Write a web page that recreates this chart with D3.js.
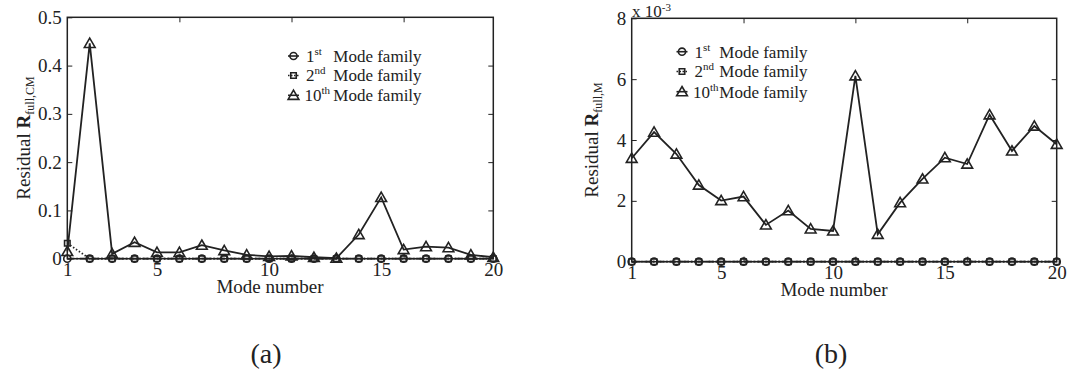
<!DOCTYPE html>
<html>
<head>
<meta charset="utf-8">
<script src="https://cdn.jsdelivr.net/npm/d3@7"></script>
<style>
  body { margin: 0; background: #fff; }
  svg text { font-family: "Liberation Serif", "Times New Roman", serif; fill: #222; }
</style>
</head>
<body>
<svg id="fig" width="1069" height="374"></svg>
<script>
// mode numbers on the x axis
const modes = d3.range(1, 21);
const xTickLabels = [1, 5, 10, 15, 20];
const xTickMarks = [6, 11, 16];

// panel (a): residual R_full,CM
const firstA  = [0, 0, 0, 0, 0, 0, 0, 0, 0, 0, 0, 0, 0, 0, 0, 0, 0, 0, 0, 0];
const secondA = [0.032, 0, 0, 0, 0, 0, 0, 0, 0, 0, 0, 0, 0, 0, 0, 0, 0, 0, 0, 0];
const tenthA  = [0.015, 0.446, 0.010, 0.034, 0.013, 0.013, 0.028, 0.017, 0.008, 0.005,
                 0.006, 0.003, 0.001, 0.050, 0.127, 0.019, 0.025, 0.023, 0.008, 0.003];
const yTicksA = [0, 0.1, 0.2, 0.3, 0.4, 0.5];

// panel (b): residual R_full,M
const firstB  = [0, 0, 0, 0, 0, 0, 0, 0, 0, 0, 0, 0, 0, 0, 0, 0, 0, 0, 0, 0];
const secondB = [0, 0, 0, 0, 0, 0, 0, 0, 0, 0, 0, 0, 0, 0, 0, 0, 0, 0, 0, 0];
const tenthB  = [3.40e-3, 4.26e-3, 3.54e-3, 2.52e-3, 2.01e-3, 2.14e-3, 1.21e-3, 1.68e-3, 1.08e-3, 1.01e-3,
                 6.11e-3, 0.90e-3, 1.94e-3, 2.72e-3, 3.42e-3, 3.21e-3, 4.83e-3, 3.64e-3, 4.46e-3, 3.86e-3];
const yTicksB = [0, 0.002, 0.004, 0.006, 0.008];

const legendNums = ["1", "2", "10"];
const legendSups = ["st", "nd", "th"];

const ink = "#222";
const svg = d3.select("#fig");

function drawPanel(p) {
  const x = d3.scaleLinear().domain([1, 20]).range([p.left, p.right]);
  const y = d3.scaleLinear().domain([0, p.ymax]).range([p.bottom, p.top]);
  const g = svg.append("g");

  //frame
  g.append("rect")
    .attr("x", p.left).attr("y", p.top)
    .attr("width", p.right - p.left).attr("height", p.bottom - p.top)
    .attr("fill", "none").attr("stroke", ink).attr("stroke-width", 1.5);

  //y axis, ticks inside, mirrored on right
  const yl = g.append("g").attr("transform", "translate(" + p.left + ",0)")
    .call(d3.axisLeft(y).tickValues(p.yTicks).tickSizeInner(-5).tickSizeOuter(0)
      .tickPadding(5.5).tickFormat(p.yFmt));
  yl.select(".domain").remove();
  yl.selectAll("line").attr("stroke", ink).attr("stroke-width", 1);
  yl.selectAll("text").attr("font-size", 19).attr("fill", ink);

  const yr = g.append("g").attr("transform", "translate(" + p.right + ",0)")
    .call(d3.axisRight(y).tickValues(p.yTicks.slice(1, -1)).tickSizeInner(-5).tickSizeOuter(0).tickFormat(""));
  yr.select(".domain").remove();
  yr.selectAll("line").attr("stroke", ink);

  //x tick marks (top/bottom) and labels
  const xt = g.append("g").attr("transform", "translate(0," + p.top + ")")
    .call(d3.axisTop(x).tickValues(xTickMarks).tickSizeInner(-5).tickSizeOuter(0).tickFormat(""));
  xt.select(".domain").remove();
  xt.selectAll("line").attr("stroke", ink);
  const xb = g.append("g").attr("transform", "translate(0," + p.bottom + ")")
    .call(d3.axisBottom(x).tickValues(xTickMarks).tickSizeInner(-5).tickSizeOuter(0).tickFormat(""));
  xb.select(".domain").remove();
  xb.selectAll("line").attr("stroke", ink);

  const xlab = g.append("g").attr("transform", "translate(0," + p.bottom + ")")
    .call(d3.axisBottom(x).tickValues(xTickLabels).tickSize(0).tickPadding(3.5));
  xlab.select(".domain").remove();
  xlab.selectAll("text").attr("font-size", 19).attr("fill", ink);

  //series
  const line = d3.line().x((d, i) => x(modes[i])).y(d => y(d));
  const series = [
    { vals: p.first, dash: "7,2,1.5,2", marker: "circle" },
    { vals: p.second, dash: "1.5,2", marker: "square" },
    { vals: p.tenth, dash: null, marker: "triangle" }
  ];
  const sym = {
    circle: d3.symbol(d3.symbolCircle, 40),
    square: d3.symbol(d3.symbolSquare, 30),
    triangle: d3.symbol(d3.symbolTriangle, 50)
  };
  series.forEach(s => {
    g.append("path").attr("d", line(s.vals))
      .attr("fill", "none").attr("stroke", ink).attr("stroke-width", 1.8)
      .attr("stroke-dasharray", s.dash);
    g.selectAll(null).data(s.vals).enter().append("path")
      .attr("d", sym[s.marker]())
      .attr("transform", (d, i) => "translate(" + x(modes[i]) + "," + (y(d) + (s.marker === "triangle" ? 1 : 0)) + ")")
      .attr("fill", "none").attr("stroke", ink).attr("stroke-width", 1.6);
  });

  //legend
  series.forEach((s, i) => {
    const ly = p.legY[i];
    g.append("line").attr("x1", p.legX - 5.5).attr("x2", p.legX + 5.5)
      .attr("y1", ly).attr("y2", ly)
      .attr("stroke", ink).attr("stroke-width", 1.6).attr("stroke-dasharray", i === 1 ? "1.5,1.5" : null);
    g.append("path").attr("d", sym[s.marker]())
      .attr("transform", "translate(" + p.legX + "," + (ly + (s.marker === "triangle" ? 1 : 0)) + ")")
      .attr("fill", "none").attr("stroke", ink).attr("stroke-width", 1.6);
    const t = g.append("text").attr("x", p.legX + (i === 2 ? 11 : 12.5)).attr("y", ly + 5.8).attr("font-size", 17);
    t.append("tspan").text(legendNums[i]);
    t.append("tspan").attr("dy", -7).attr("font-size", 11).text(legendSups[i]);
    g.append("text").attr("x", p.legTextX).attr("y", ly + 5.8).attr("font-size", 17).text("Mode family");
  });

  //y label
  const yt = g.append("text")
    .attr("transform", "translate(" + p.yLabX + "," + (p.top + p.bottom) / 2 + ") rotate(-90)")
    .attr("text-anchor", "middle").attr("font-size", 19);
  yt.append("tspan").text("Residual  ");
  yt.append("tspan").attr("font-weight", "bold").text("R");
  yt.append("tspan").attr("font-size", 12).attr("dy", 4).text(p.sub);

  //x label
  g.append("text").attr("x", p.xLabX).attr("y", p.bottom + 34)
    .attr("text-anchor", "middle").attr("font-size", 19).text("Mode number");

  //panel tag
  g.append("text").attr("x", p.tagX).attr("y", 363)
    .attr("text-anchor", "middle").attr("font-size", 28).text(p.tag);
  return { x, y, g };
}

drawPanel({
  left: 67.3, right: 493.3, top: 17.3, bottom: 258.7, ymax: 0.5,
  yTicks: yTicksA, yFmt: d => d === 0 ? "0" : d3.format(".1f")(d),
  first: firstA, second: secondA, tenth: tenthA,
  legX: 293.5, legY: [56, 75.5, 95.3], legTextX: 333.3,
  yLabX: 30, sub: "full,CM", xLabX: 270, tagX: 266, tag: "(a)"
});

const pb = drawPanel({
  left: 631.7, right: 1056.7, top: 18.3, bottom: 261.7, ymax: 0.008,
  yTicks: yTicksB, yFmt: d => d3.format("d")(d * 1000),
  first: firstB, second: secondB, tenth: tenthB,
  legX: 682, legY: [51.7, 71.5, 91.7], legTextX: 719.3,
  yLabX: 598, sub: "full,M", xLabX: 834, tagX: 831, tag: "(b)"
});

// exponent note above panel (b)
const ex = pb.g.append("text").attr("x", 632).attr("y", 17).attr("font-size", 17);
ex.append("tspan").text("x 10");
ex.append("tspan").attr("dy", -6.5).attr("font-size", 11).text("-3");
</script>
</body>
</html>
